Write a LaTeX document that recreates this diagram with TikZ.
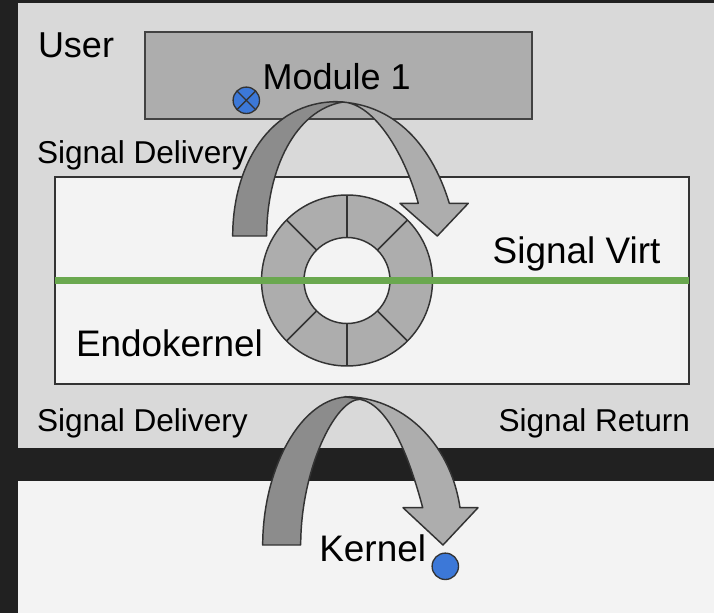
\documentclass[tikz,border=0pt]{standalone}
\usepackage{fontspec}
\setmainfont{Liberation Sans}
\definecolor{bgdark}{HTML}{212121}
\definecolor{userbg}{HTML}{D9D9D9}
\definecolor{paper}{HTML}{F3F3F3}
\definecolor{midgray}{HTML}{ADADAD}
\definecolor{darkband}{HTML}{8C8C8C}
\definecolor{edge}{HTML}{333333}
\definecolor{sigGreen}{HTML}{6AA84F}
\definecolor{dotBlue}{HTML}{3C78D8}
\tikzset{
  lbl/.style={anchor=base west, inner sep=0pt, outer sep=0pt, text=black},
  bigtxt/.style={lbl, font=\fontsize{27pt}{30pt}\selectfont},
  bigtxtb/.style={lbl, font=\fontsize{27.7pt}{30pt}\selectfont},
  smalltxt/.style={lbl, font=\fontsize{23.7pt}{27pt}\selectfont},
  boxedge/.style={draw=edge, line width=1.5pt},
  arrowpart/.style={draw=edge, line width=1.1pt, line join=round},
  ringline/.style={draw=edge, line width=1.1pt},
  dotstyle/.style={fill=dotBlue, draw=edge, line width=1pt}
}
\begin{document}
\begin{tikzpicture}[x=0.75pt,y=-0.75pt]
% background and regions
\fill[bgdark] (0,0) rectangle (714,613);
\useasboundingbox (0,0) rectangle (714,613);
\fill[userbg] (17.5,3) rectangle (714,448);
\fill[paper] (17.5,481) rectangle (714,613);
% endokernel box
\filldraw[fill=paper, boxedge] (55,177) rectangle (689,384);
% module box
\filldraw[fill=midgray, draw=edge!80!gray, line width=1.3pt] (145,32.3) rectangle (531.7,119);
% labels
\node[bigtxt] (user) at (38,58) {User};
\node[bigtxt] (mod) at (262.7,89.3) {Module 1};
\node[smalltxt] (sdel1) at (37,164) {Signal Delivery};
\node[bigtxtb] (svirt) at (492.7,263.3) {Signal Virt};
\node[bigtxtb] (endo) at (76,356) {Endokernel};
\node[smalltxt] (sdel2) at (37,431.7) {Signal Delivery};
\node[smalltxt, anchor=base east] (sret) at (690,431.7) {Signal Return};
\node[bigtxtb] (kern) at (319.3,561.7) {Kernel};
% ring
\filldraw[fill=midgray, ringline] (347,280.5) circle[radius=85.5];
\foreach \a in {0,45,...,315} {
  \draw[ringline] (347,280.5) ++(\a:43) -- ++(\a:42.5);
}
\filldraw[fill=paper, ringline] (347,280.5) circle[radius=43];
% green line
\draw[sigGreen, line width=5.25pt] (55,280.7) -- (689,280.7);
% top curved arrow
\filldraw[fill=darkband, arrowpart]
  (232.7,236) .. controls (232.7,165) and (270,101.7) .. (337,101.7)
  -- (343,102) .. controls (295,110) and (266.7,170) .. (266.7,236) -- cycle;
\filldraw[fill=midgray, arrowpart]
  (333,101.7) .. controls (390,101.7) and (430,140) .. (449.3,203.3)
  -- (468.3,203.3) -- (437.3,236) -- (400,203.3) -- (418.3,203.3)
  .. controls (405,155) and (375,104) .. (343,102) -- cycle;
% bottom curved arrow
\filldraw[fill=darkband, arrowpart]
  (262.7,545) .. controls (262.7,470) and (300,396.7) .. (350,396.7)
  -- (360,399.3) .. controls (335,399.3) and (300.7,470) .. (300.7,545) -- cycle;
\filldraw[fill=midgray, arrowpart]
  (345,396.7) .. controls (400,396.7) and (450,440) .. (460,507.7)
  -- (478,507.7) -- (443,545) -- (403,507.7) -- (422.7,507.7)
  .. controls (410,460) and (390,405) .. (360,399.3) -- cycle;
% blue dots
\filldraw[dotstyle] (246.3,100.3) circle[radius=13.2] coordinate (dotA);
\draw[edge, line width=1pt] (246.3,100.3) ++(45:13.2) -- ++(225:26.4);
\draw[edge, line width=1pt] (246.3,100.3) ++(135:13.2) -- ++(315:26.4);
\filldraw[dotstyle] (445.3,566.3) circle[radius=13.2] coordinate (dotB);
\end{tikzpicture}
\end{document}
